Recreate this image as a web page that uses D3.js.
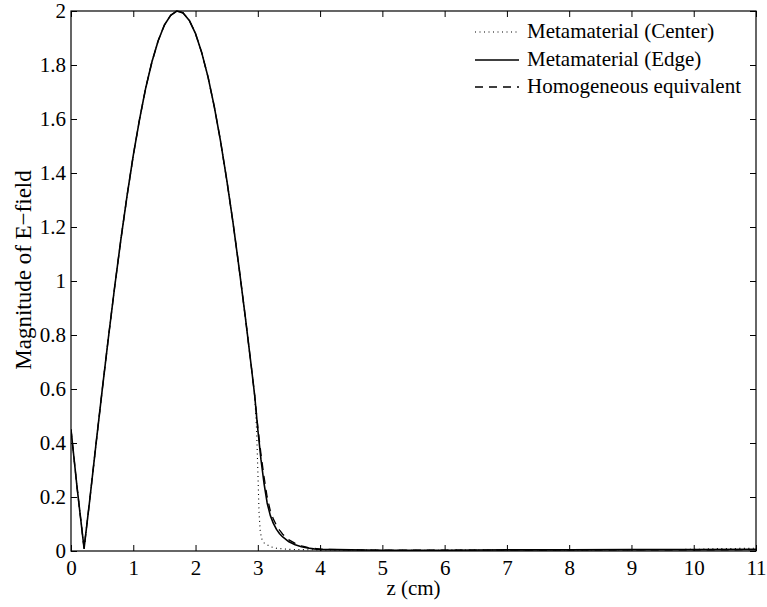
<!DOCTYPE html>
<html>
<head>
<meta charset="utf-8">
<script src="https://cdn.jsdelivr.net/npm/d3@7"></script>
<style>
  html, body { margin: 0; padding: 0; background: #fff; }
  svg { display: block; }
  text { font-family: "Liberation Serif", "Times New Roman", Times, serif; fill: #000; }
</style>
</head>
<body>
<svg id="chart" width="767" height="607"></svg>
<script>
// Position along the guide (cm) and field magnitude shared by all traces up to z = 2.95
const zMain = [0, 0.1, 0.21, 0.3, 0.4, 0.5, 0.6, 0.7, 0.8, 0.9, 1.0, 1.1, 1.2, 1.3, 1.4, 1.5, 1.6, 1.7,
               1.8, 1.9, 2.0, 2.1, 2.2, 2.3, 2.4, 2.5, 2.6, 2.7, 2.8, 2.9, 2.95];
const eMain = [0.45, 0.23, 0.01, 0.187, 0.393, 0.594, 0.789, 0.976, 1.152, 1.315, 1.465, 1.598, 1.715, 1.812, 1.89, 1.948, 1.984, 2.0,
               1.993, 1.965, 1.916, 1.845, 1.756, 1.647, 1.52, 1.376, 1.219, 1.047, 0.865, 0.674, 0.575];

// Decay beyond the slab for each trace
const zEdgeTail = [3.0, 3.05, 3.1, 3.15, 3.2, 3.25, 3.3, 3.35, 3.4, 3.5, 3.6, 3.7, 3.8, 3.9, 4.0, 4.5, 5, 6, 7, 8, 9, 10, 11];
const eEdgeTail = [0.45, 0.34, 0.25, 0.178, 0.132, 0.102, 0.08, 0.064, 0.052, 0.034, 0.023, 0.016, 0.011, 0.008, 0.006, 0.004, 0.003, 0.003, 0.004, 0.004, 0.005, 0.005, 0.006];

const zCenterTail = [2.98, 3.0, 3.02, 3.04, 3.07, 3.1, 3.2, 3.3, 3.5, 4.0, 5, 6, 7, 8, 9, 10, 10.4, 11];
const eCenterTail = [0.45, 0.3, 0.14, 0.07, 0.04, 0.03, 0.016, 0.01, 0.006, 0.004, 0.003, 0.003, 0.004, 0.004, 0.005, 0.006, 0.009, 0.01];

const zHomTail = [3.0, 3.05, 3.1, 3.15, 3.2, 3.25, 3.3, 3.35, 3.4, 3.5, 3.6, 3.7, 3.8, 4.0, 4.5, 5, 6, 7, 8, 9, 10, 11];
const eHomTail = [0.46, 0.36, 0.275, 0.2, 0.15, 0.118, 0.095, 0.077, 0.062, 0.041, 0.028, 0.019, 0.013, 0.007, 0.004, 0.003, 0.003, 0.003, 0.004, 0.004, 0.004, 0.005];

const xTicks = [0, 1, 2, 3, 4, 5, 6, 7, 8, 9, 10, 11];
const yTicks = [0, 0.2, 0.4, 0.6, 0.8, 1, 1.2, 1.4, 1.6, 1.8, 2];

const seriesNames = ["Metamaterial (Center)", "Metamaterial (Edge)", "Homogeneous equivalent"];

const plot = { left: 71, right: 756, top: 11, bottom: 551 };
const fontSize = 21;
const fontFamily = "'Liberation Serif', 'Times New Roman', Times, serif";
const tickLen = 6;

const svg = d3.select("#chart");
const x = d3.scaleLinear().domain([0, 11]).range([plot.left, plot.right]);
const y = d3.scaleLinear().domain([0, 2]).range([plot.bottom, plot.top]);

const pairs = (zs, es) => zs.map((z, i) => [z, es[i]]);
const mainPart = pairs(zMain, eMain);
const center = mainPart.concat(pairs(zCenterTail, eCenterTail));
const edge = mainPart.concat(pairs(zEdgeTail, eEdgeTail));
const hom = mainPart.concat(pairs(zHomTail, eHomTail));

const line = d3.line().x(d => x(d[0])).y(d => y(d[1]));

const styles = [
  { data: center, width: 1.1, dash: "1,3.5" },
  { data: hom, width: 1.3, dash: "8,6" },
  { data: edge, width: 1.6, dash: null }
];

// Traces
svg.append("defs").append("clipPath").attr("id", "clip")
  .append("rect").attr("x", plot.left).attr("y", plot.top - 2)
  .attr("width", plot.right - plot.left).attr("height", plot.bottom - plot.top + 2);

const g = svg.append("g").attr("clip-path", "url(#clip)");
styles.forEach(s => {
  g.append("path")
    .attr("d", line(s.data))
    .attr("fill", "none")
    .attr("stroke", "#000")
    .attr("stroke-width", s.width)
    .attr("stroke-dasharray", s.dash)
    .attr("stroke-linejoin", "round");
});

// Axes: ticks point inward on all four sides
const axisStyle = sel => {
  sel.attr("font-family", fontFamily).attr("font-size", fontSize);
  sel.select(".domain").remove();
  sel.selectAll("line").attr("stroke", "#000").attr("stroke-width", 1);
  sel.selectAll("text").attr("fill", "#000");
};

svg.append("g").attr("transform", `translate(0,${plot.bottom})`)
  .call(d3.axisBottom(x).tickValues(xTicks).tickFormat(d3.format("d")).tickSizeInner(-tickLen).tickSizeOuter(0).tickPadding(9))
  .call(axisStyle);
svg.append("g").attr("transform", `translate(0,${plot.top})`)
  .call(d3.axisTop(x).tickValues(xTicks).tickFormat("").tickSizeInner(-tickLen).tickSizeOuter(0))
  .call(axisStyle);
svg.append("g").attr("transform", `translate(${plot.left},0)`)
  .call(d3.axisLeft(y).tickValues(yTicks).tickFormat(d3.format("~g")).tickSizeInner(-tickLen).tickSizeOuter(0).tickPadding(5))
  .call(axisStyle);
svg.append("g").attr("transform", `translate(${plot.right},0)`)
  .call(d3.axisRight(y).tickValues(yTicks).tickFormat("").tickSizeInner(-tickLen).tickSizeOuter(0))
  .call(axisStyle);

// Frame
svg.append("rect")
  .attr("x", plot.left).attr("y", plot.top)
  .attr("width", plot.right - plot.left).attr("height", plot.bottom - plot.top)
  .attr("fill", "none").attr("stroke", "#000").attr("stroke-width", 1.2);

// Axis titles
svg.append("text")
  .attr("x", (plot.left + plot.right) / 2).attr("y", 595)
  .attr("text-anchor", "middle")
  .attr("font-family", fontFamily).attr("font-size", fontSize)
  .text("z (cm)");
svg.append("text")
  .attr("transform", `translate(31,270) rotate(-90)`)
  .attr("text-anchor", "middle")
  .attr("font-family", fontFamily).attr("font-size", 23)
  .text("Magnitude of E\u2212field");

// Legend
const legend = svg.append("g");
const legRows = [32, 60, 87];
const legLineX = [475, 519];
[styles[0], styles[2], styles[1]].forEach((s, i) => {
  legend.append("line")
    .attr("x1", legLineX[0]).attr("x2", legLineX[1])
    .attr("y1", legRows[i]).attr("y2", legRows[i])
    .attr("stroke", "#000").attr("stroke-width", s.width)
    .attr("stroke-dasharray", s.dash);
  legend.append("text")
    .attr("x", 527).attr("y", legRows[i]).attr("dy", "0.3em")
    .attr("font-family", fontFamily).attr("font-size", fontSize)
    .text(seriesNames[i]);
});
</script>
</body>
</html>
